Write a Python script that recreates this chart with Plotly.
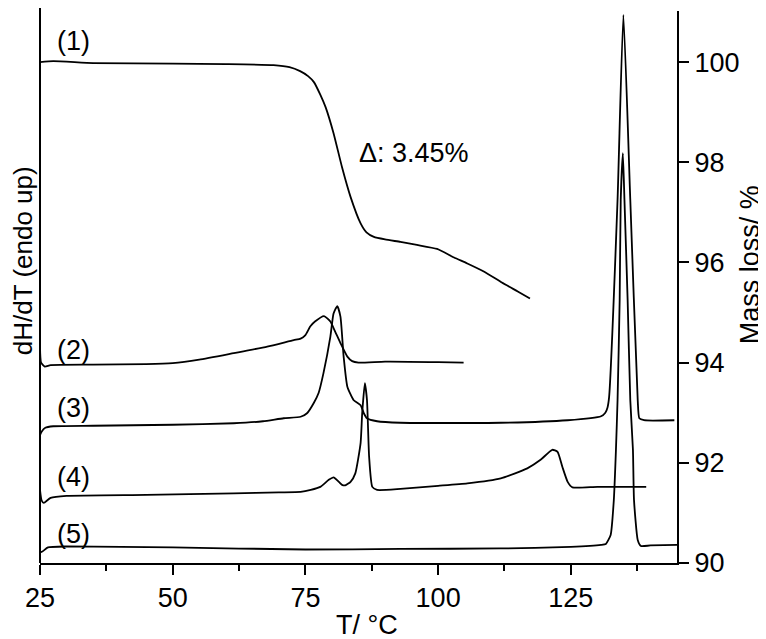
import plotly.graph_objects as go

# (1) TGA curve, mass %
t1 = [25, 27.5, 35, 50, 60, 69, 72, 74, 75.5, 76.6, 77.8, 78.8, 80.3, 81.9, 83.5, 85.4, 86.5, 87.9,
      90, 92.9, 96, 99.8, 103, 105.5, 108.6, 112, 115, 117.3]
m1 = [100.0, 100.02, 99.98, 99.97, 99.96, 99.94, 99.9, 99.82, 99.72, 99.6, 99.35, 99.1, 98.58, 97.9,
      97.31, 96.78, 96.6, 96.51, 96.46, 96.41, 96.35, 96.27, 96.1, 95.98, 95.82, 95.6, 95.42, 95.28]

# (2)-(5) DSC curves (offset, plotted on same scale)
t2 = [25, 25.2, 25.9, 27, 35, 45, 50, 55, 61.5, 67.8, 72.8, 74.1, 75, 75.9, 76.8, 78.5, 79.7, 80.6,
      81.6, 82.9, 83.8, 85, 90, 100, 104.8]
y2 = [94.32, 94.0, 93.92, 93.95, 93.96, 93.97, 93.99, 94.06, 94.19, 94.32, 94.45, 94.48, 94.55, 94.72,
      94.82, 94.93, 94.82, 94.62, 94.39, 94.12, 94.03, 94.0, 94.02, 94.01, 94.0]

t3 = [25, 25.3, 26, 27.5, 35, 50, 61.5, 67, 70.9, 74.1, 75.3, 76.6, 77.5, 78.4, 79.7, 80.3, 81.0,
      81.6, 82.2, 82.9, 84.1, 85.4, 86.0, 86.6, 88.5, 92.9, 111.8, 124.4, 130.7, 131.5, 131.9, 132.2,
      133.8, 134.9, 136.2, 137.6, 137.9, 138.8, 144.5]
y3 = [92.55, 92.62, 92.70, 92.73, 92.74, 92.76, 92.79, 92.83, 92.89, 92.92, 92.99, 93.2, 93.4, 93.79,
      94.52, 94.98, 95.13, 94.92, 94.12, 93.52, 93.25, 93.15, 92.99, 92.89, 92.83, 92.80, 92.80, 92.85,
      92.93, 93.0, 93.1, 93.3, 97.25, 100.94, 97.25, 93.25, 92.89, 92.85, 92.85]

t4 = [25, 25.3, 25.7, 27, 30, 45, 61.5, 70, 74.1, 76, 77.8, 79.4, 80.3, 81.3, 81.9, 82.5, 83.5, 84.4,
      85.4, 85.7, 86.2, 86.6, 87.0, 87.6, 88.5, 92.9, 100, 105.5, 111.8, 116.8, 119.3, 121.5, 122.5,
      123.4, 124.4, 125.3, 130, 139.2]
y4 = [91.46, 91.25, 91.2, 91.3, 91.34, 91.36, 91.39, 91.41, 91.42, 91.46, 91.52, 91.66, 91.71, 91.62,
      91.56, 91.55, 91.62, 91.79, 92.4, 93.0, 93.59, 93.25, 92.12, 91.52, 91.46, 91.48, 91.54, 91.59,
      91.69, 91.89, 92.06, 92.26, 92.22, 91.92, 91.62, 91.51, 91.52, 91.52]

t5 = [25, 25.3, 26.5, 30, 50, 75, 92.9, 111.8, 125, 130.7, 131.6, 132.5, 133.1, 133.5, 133.8, 134.2,
      134.4, 134.8, 135.1, 135.7, 136.2, 136.7, 136.9, 137.6, 138.2, 140, 145]
y5 = [90.23, 90.22, 90.31, 90.33, 90.31, 90.27, 90.28, 90.29, 90.32, 90.36, 90.38, 90.56, 91.26, 92.26,
      93.25, 95.25, 97.25, 98.18, 97.25, 95.25, 93.25, 92.26, 91.26, 90.46, 90.34, 90.35, 90.36]

curve_labels = ["(1)", "(2)", "(3)", "(4)", "(5)"]
label_y = [100.42, 94.25, 93.09, 91.72, 90.58]

FONT = "Liberation Sans, Arial, sans-serif"
fig = go.Figure()
for t, y in [(t1, m1), (t2, y2), (t3, y3), (t4, y4), (t5, y5)]:
    fig.add_trace(go.Scatter(x=t, y=y, mode="lines",
                             line=dict(color="black", width=1.8, shape="spline", smoothing=0.5),
                             showlegend=False, hoverinfo="skip"))

for lab, ly in zip(curve_labels, label_y):
    fig.add_annotation(x=31.4, y=ly, text=lab, showarrow=False, font=dict(size=27, color="black"))
fig.add_annotation(x=95.4, y=98.18, text="Δ: 3.45%", showarrow=False, font=dict(size=27, color="black"))

# axis titles
fig.add_annotation(xref="paper", yref="paper", x=0.513, y=-0.1123, text="T/ °C", showarrow=False,
                   xanchor="center", yanchor="middle", font=dict(size=27, color="black"))
fig.add_annotation(xref="paper", yref="paper", x=-0.0265, y=0.547, text="dH/dT (endo up)", textangle=-90,
                   xanchor="center", yanchor="middle", showarrow=False, borderpad=0,
                   font=dict(size=26, color="black"))
fig.add_annotation(xref="paper", yref="paper", x=1.115, y=0.54, text="Mass loss/ %", textangle=-90,
                   xanchor="center", yanchor="middle", showarrow=False, font=dict(size=27, color="black"))

# left axis line (no ticks)
fig.add_shape(type="line", xref="paper", yref="paper", x0=0, x1=0, y0=0, y1=1.02,
              line=dict(color="black", width=2))

fig.update_xaxes(range=[25, 145], tick0=25, dtick=25, ticks="outside", ticklen=10, tickwidth=2,
                 tickcolor="black", showline=True, linewidth=2, linecolor="black", showgrid=False,
                 zeroline=False, tickfont=dict(size=27, color="black"), automargin=False,
                 minor=dict(ticks="outside", ticklen=6, tickwidth=2, tickcolor="black", dtick=12.5, tick0=25))
fig.update_yaxes(range=[90, 101.02], side="right", tick0=90, dtick=2, ticks="outside", ticklen=10,
                 tickwidth=2, tickcolor="black", showline=True, linewidth=2, linecolor="black",
                 showgrid=False, zeroline=False, tickfont=dict(size=27, color="black"), automargin=False)

# page has an 8px body margin, so the margins are shifted to compensate
fig.update_layout(width=766, height=639, margin=dict(l=32, r=97, t=3, b=84),
                  plot_bgcolor="white", paper_bgcolor="white", font=dict(family=FONT, color="black"))
fig.write_html("out.html")
